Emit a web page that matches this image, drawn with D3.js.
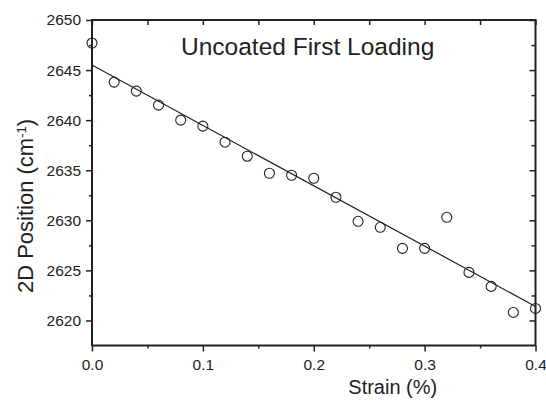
<!DOCTYPE html>
<html>
<head>
<meta charset="utf-8">
<script src="https://cdn.jsdelivr.net/npm/d3@7"></script>
<style>
body { margin: 0; background: #fff; }
text { font-family: "Liberation Sans", Arial, sans-serif; fill: #222; }
</style>
</head>
<body>
<script>
// strain (%) and 2D peak position (cm-1)
var strain = [0, 0.02, 0.04, 0.06, 0.08, 0.10, 0.12, 0.14, 0.16, 0.18, 0.20,
              0.22, 0.24, 0.26, 0.28, 0.30, 0.32, 0.34, 0.36, 0.38, 0.40];
var position = [2647.7, 2643.8, 2642.9, 2641.5, 2640.0, 2639.4, 2637.8, 2636.4, 2634.7, 2634.5, 2634.2,
                2632.3, 2629.9, 2629.3, 2627.2, 2627.2, 2630.3, 2624.8, 2623.4, 2620.8, 2621.2];
// linear fit end points
var fitX = [0, 0.4];
var fitY = [2645.5, 2621.4];

var xTicks = [0, 0.1, 0.2, 0.3, 0.4];
var xMinor = [0.05, 0.15, 0.25, 0.35];
var yTicks = [2620, 2625, 2630, 2635, 2640, 2645, 2650];
var yMinor = [2622.5, 2627.5, 2632.5, 2637.5, 2642.5, 2647.5];

function main(){
	var w = 546;
	var h = 401;
	var m = {top: 20, right: 10.5, bottom: 55.5, left: 92};

	var svg = d3.select("body")
				.append("svg")
				.attr("width", w)
				.attr("height", h);

	var x = d3.scaleLinear().domain([0, 0.4]).range([m.left, w - m.right]);
	var y = d3.scaleLinear().domain([2617.5, 2650]).range([h - m.bottom, m.top]);

	function styleAxis(g){
		g.select(".domain").remove();
		g.selectAll("line").attr("stroke", "#222").attr("stroke-width", 1.5);
		g.selectAll("text").style("font-size", "15.5px").attr("fill", "#222");
	}

	// bottom
	svg.append("g").attr("transform", "translate(0," + y.range()[0] + ")")
		.call(d3.axisBottom(x).tickValues(xTicks).tickSize(6).tickPadding(7).tickFormat(d3.format(".1f")))
		.call(styleAxis);
	svg.append("g").attr("transform", "translate(0," + y.range()[0] + ")")
		.call(d3.axisBottom(x).tickValues(xMinor).tickSize(3).tickFormat(""))
		.call(styleAxis);
	// top (inward)
	svg.append("g").attr("transform", "translate(0," + y.range()[1] + ")")
		.call(d3.axisBottom(x).tickValues(xTicks).tickSize(5).tickFormat(""))
		.call(styleAxis);
	svg.append("g").attr("transform", "translate(0," + y.range()[1] + ")")
		.call(d3.axisBottom(x).tickValues(xMinor).tickSize(5).tickFormat(""))
		.call(styleAxis);
	// left
	svg.append("g").attr("transform", "translate(" + x.range()[0] + ",0)")
		.call(d3.axisLeft(y).tickValues(yTicks).tickSize(6).tickPadding(5).tickFormat(d3.format("d")))
		.call(styleAxis);
	svg.append("g").attr("transform", "translate(" + x.range()[0] + ",0)")
		.call(d3.axisLeft(y).tickValues(yMinor).tickSize(3).tickFormat(""))
		.call(styleAxis);
	// right (inward)
	svg.append("g").attr("transform", "translate(" + x.range()[1] + ",0)")
		.call(d3.axisLeft(y).tickValues(yTicks).tickSize(6).tickFormat(""))
		.call(styleAxis);
	svg.append("g").attr("transform", "translate(" + x.range()[1] + ",0)")
		.call(d3.axisLeft(y).tickValues(yMinor).tickSize(4).tickFormat(""))
		.call(styleAxis);

	// frame
	svg.append("rect")
		.attr("x", x.range()[0])
		.attr("y", y.range()[1])
		.attr("width", x.range()[1] - x.range()[0])
		.attr("height", y.range()[0] - y.range()[1])
		.attr("fill", "none")
		.attr("stroke", "#222")
		.attr("stroke-width", 2);

	// fit line
	svg.append("line")
		.attr("x1", x(fitX[0])).attr("y1", y(fitY[0]))
		.attr("x2", x(fitX[1])).attr("y2", y(fitY[1]))
		.attr("stroke", "#222")
		.attr("stroke-width", 1.2);

	// points
	svg.selectAll(".pt")
		.data(strain)
		.enter()
		.append("circle")
		.attr("class", "pt")
		.attr("cx", function(d){ return x(d); })
		.attr("cy", function(d, i){ return y(position[i]); })
		.attr("r", 5)
		.attr("fill", "none")
		.attr("stroke", "#222")
		.attr("stroke-width", 1.1);

	// title
	svg.append("text")
		.text("Uncoated First Loading")
		.attr("x", 181)
		.attr("y", 55)
		.style("font-size", "24.5px");

	// axis labels
	svg.append("text")
		.text("Strain (%)")
		.attr("x", (x.range()[0] + x.range()[1]) / 2 + 79)
		.attr("y", 394)
		.attr("text-anchor", "middle")
		.style("font-size", "20px");

	var yl = svg.append("text")
		.attr("transform", "translate(33,206) rotate(-90)")
		.attr("text-anchor", "middle")
		.style("font-size", "22px");
	yl.append("tspan").text("2D Position (cm");
	yl.append("tspan").text("-1").attr("baseline-shift", "super").style("font-size", "13px");
	yl.append("tspan").text(")");
}

main();
</script>
</body>
</html>
